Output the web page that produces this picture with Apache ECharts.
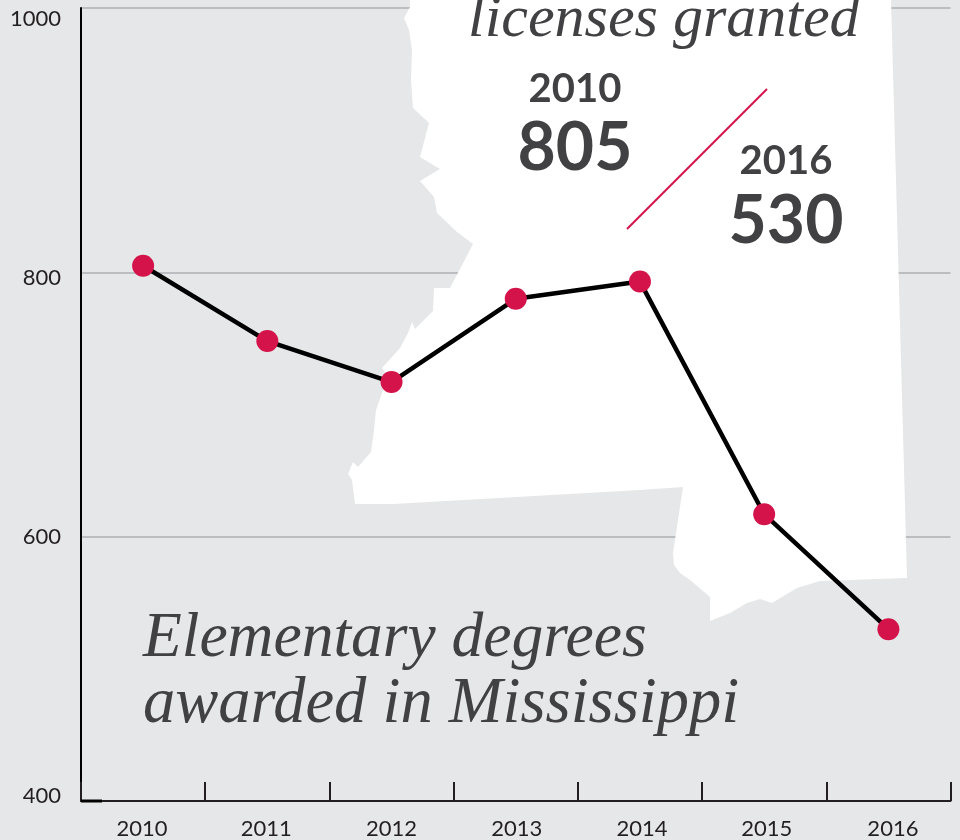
<!DOCTYPE html>
<html lang="en">
<head>
    <meta charset="UTF-8">
    <title>Elementary degrees awarded in Mississippi</title>
    <script src="https://cdn.jsdelivr.net/npm/echarts@6/dist/echarts.min.js"></script>
    <style>
        html, body { margin: 0; padding: 0; background: #e6e7e8; overflow: hidden; }
    </style>
</head>
<body>
    <div id="chart-container" style="width: 960px; height: 840px;"></div>

    <script>
    // chart values
    var years = ['2010', '2011', '2012', '2013', '2014', '2015', '2016'];
    var degrees = [805, 748, 717, 780, 793, 617, 530];

    // outline of the state behind the chart, in page pixels
    var stateOutline = [
        [410, 0], [410, 7], [404, 18], [409, 30], [412, 50], [411, 80], [413, 108], [429, 123],
        [420, 157], [440, 169], [420, 181], [434, 197], [437, 213], [457, 232], [473, 244],
        [450, 288], [434, 288], [433, 311], [415, 329], [412, 322], [408, 333], [400, 348],
        [382, 368], [385, 372], [383, 390], [376, 410], [374, 430], [371, 452], [358, 467],
        [353, 462], [348, 474], [352, 480], [355, 504], [393, 504], [640, 490], [683, 487],
        [673, 553], [674, 565], [680, 573], [690, 580], [710, 597], [710, 621], [730, 613],
        [747, 603], [760, 599], [772, 603], [797, 588], [820, 581], [907, 578], [891, 0]
    ];

    var darkGrey = '#414042';
    var red = '#d3134a';
    var serifItalic = 'italic 400 %px "Liberation Serif", serif';
    var sansBold = '700 %px Lato, sans-serif';

    // the printed year labels drift right of their bands, px per year
    var yearShift = [-1, -1, 0, 1, 2, 2.5, 4.5];
    var yearRich = {};
    years.forEach(function (y, i) {
        var s = yearShift[i];
        yearRich['y' + y] = {
            fontFamily: 'Lato',
            fontSize: 22,
            color: '#231f20',
            padding: [0, s < 0 ? -2 * s : 0, 0, s > 0 ? 2 * s : 0]
        };
    });

    function label(text, x, y, size, font, align) {
        return {
            type: 'text',
            x: x,
            y: y,
            z: 1,
            style: {
                text: text,
                font: font.replace('%', size),
                fill: darkGrey,
                textAlign: align,
                textVerticalAlign: 'middle'
            }
        };
    }

    var chart = echarts.init(document.getElementById('chart-container'), null, { renderer: 'canvas' });

    var option = {
        animation: false,
        backgroundColor: '#e6e7e8',
        grid: { left: 81, right: 9.5, top: 8, bottom: 38 },
        xAxis: {
            type: 'category',
            data: years,
            axisLine: { lineStyle: { color: '#231f20', width: 2 } },
            axisTick: { show: true, inside: true, length: 19, alignWithLabel: false, lineStyle: { color: '#231f20', width: 2 } },
            axisLabel: {
                color: '#231f20',
                margin: 17,
                interval: 0,
                formatter: function (v) { return '{y' + v + '|' + v + '}'; },
                rich: yearRich
            }
        },
        yAxis: {
            type: 'value',
            min: 400,
            max: 1000,
            interval: 200,
            axisLine: { show: true, lineStyle: { color: '#000', width: 2 } },
            axisTick: { show: false },
            splitLine: { lineStyle: { color: '#bcbdc0', width: 2 } },
            axisLabel: {
                margin: 20,
                color: '#231f20',
                formatter: function (v) { return '{t' + v + '|' + v + '}'; },
                // the printed labels sit a little off their gridlines
                rich: {
                    t1000: { fontFamily: 'Lato', fontSize: 22, color: '#231f20', padding: [22, 0, 0, 0] },
                    t800: { fontFamily: 'Lato', fontSize: 22, color: '#231f20', padding: [12, 0, 0, 0] },
                    t600: { fontFamily: 'Lato', fontSize: 22, color: '#231f20', padding: [0, 0, 0, 0] },
                    t400: { fontFamily: 'Lato', fontSize: 22, color: '#231f20', padding: [0, 0, 10, 0] }
                }
            }
        },
        graphic: [
            { type: 'polygon', z: 1, shape: { points: stateOutline }, style: { fill: '#fff' } },
            { type: 'line', z: 1, shape: { x1: 627, y1: 229, x2: 767, y2: 89 }, style: { stroke: red, lineWidth: 2 } },
            { type: 'line', z: 1, shape: { x1: 81, y1: 801, x2: 102, y2: 801 }, style: { stroke: '#000', lineWidth: 3 } },
            label('licenses granted', 468, 20, 60, serifItalic, 'left'),
            label('2010', 575, 89, 40, sansBold, 'center'),
            label('805', 575, 149, 66, sansBold, 'center'),
            label('2016', 786, 161, 40, sansBold, 'center'),
            label('530', 786, 222, 66, sansBold, 'center'),
            label('Elementary degrees', 143, 639, 63.5, serifItalic, 'left'),
            label('awarded in Mississippi', 143, 705, 64.5, serifItalic, 'left')
        ],
        series: [{
            type: 'line',
            data: degrees,
            z: 2,
            symbol: 'circle',
            symbolSize: 22,
            lineStyle: { color: '#000', width: 4.5 },
            itemStyle: { color: red }
        }]
    };

    chart.setOption(option);
    </script>
</body>
</html>
